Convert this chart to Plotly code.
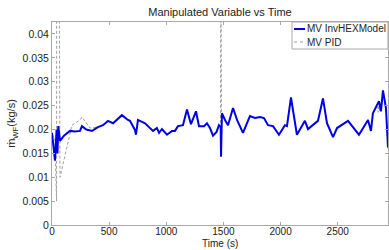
import plotly.graph_objects as go

# Blue series: MV InvHEXModel
t_inv = [0, 26, 40, 48, 55, 70, 105, 157, 200, 245, 262, 300, 350, 402, 446, 490, 534, 575, 612, 665, 682,
         726, 735, 752, 814, 884, 918, 937, 962, 1006, 1050, 1076, 1102, 1146, 1181, 1216, 1260, 1286,
         1330, 1356, 1382, 1409, 1440, 1461, 1476, 1479, 1482, 1487, 1514, 1540, 1584, 1619, 1671, 1732,
         1776, 1820, 1855, 1890, 1934, 1986, 2038, 2056, 2091, 2126, 2143, 2213, 2240, 2327, 2371, 2406,
         2459, 2494, 2590, 2686, 2765, 2791, 2808, 2843, 2861, 2878, 2896, 2922, 2940]
mv_inv = [0.0193, 0.0135, 0.0200, 0.0150, 0.0207, 0.0176, 0.0187, 0.0197, 0.0196, 0.0197, 0.0207, 0.0200,
          0.0197, 0.0205, 0.0209, 0.0218, 0.0213, 0.0222, 0.0230, 0.0220, 0.0218,
          0.0199, 0.0189, 0.0220, 0.0213, 0.0197, 0.0203, 0.0193, 0.0201, 0.0189, 0.0197, 0.0197, 0.0207,
          0.0209, 0.0242, 0.0211, 0.0238, 0.0207, 0.0207, 0.0213, 0.0203, 0.0187, 0.0195, 0.0209, 0.0205,
          0.0143, 0.0205, 0.0234, 0.0220, 0.0209, 0.0245, 0.0220, 0.0193, 0.0228,
          0.0224, 0.0226, 0.0224, 0.0209, 0.0207, 0.0189, 0.0209, 0.0207, 0.0267, 0.0218, 0.0189, 0.0218,
          0.0201, 0.0218, 0.0265, 0.0213, 0.0184, 0.0203, 0.0218, 0.0189, 0.0220, 0.0197, 0.0234, 0.0251,
          0.0259, 0.0238, 0.0282, 0.0245, 0.0162]

# Grey dashed series: MV PID
t_pid = [0, 25, 40, 41, 62, 70, 175, 245, 262, 332, 402, 446, 490, 534, 575, 612, 665, 682, 726, 735, 752,
         814, 884, 918, 937, 962, 1006, 1050, 1076, 1102, 1146, 1181, 1216, 1260, 1286, 1330, 1356, 1382,
         1409, 1440, 1461, 1475, 1477, 1481, 1483, 1487, 1514, 1540, 1584, 1619, 1671, 1732, 1776, 1820,
         1855, 1890, 1934, 1986, 2038, 2056, 2091, 2126, 2143, 2213, 2240, 2327, 2371, 2406, 2459, 2494,
         2590, 2686, 2765, 2791, 2808, 2830, 2843, 2855, 2861, 2870, 2878, 2896, 2922, 2940]
mv_pid = [0.0190, 0.0180, 0.0050, 0.0600, 0.0600, 0.0100, 0.0209, 0.0220, 0.0226, 0.0203, 0.0205, 0.0209,
          0.0218, 0.0213, 0.0222, 0.0230, 0.0220, 0.0218, 0.0199, 0.0189, 0.0220,
          0.0213, 0.0197, 0.0203, 0.0193, 0.0201, 0.0189, 0.0197, 0.0197, 0.0207, 0.0209, 0.0242, 0.0211,
          0.0238, 0.0207, 0.0207, 0.0213, 0.0203, 0.0187, 0.0195, 0.0209, 0.0210, 0.0600, 0.0600, 0.0215,
          0.0234, 0.0220, 0.0209, 0.0245, 0.0220, 0.0193, 0.0228, 0.0224, 0.0226, 0.0224, 0.0209, 0.0207,
          0.0189, 0.0209, 0.0207, 0.0267, 0.0218, 0.0189, 0.0218, 0.0201, 0.0218, 0.0265, 0.0213, 0.0184,
          0.0203, 0.0218, 0.0189, 0.0220, 0.0197, 0.0234, 0.0240, 0.0251, 0.0236, 0.0259, 0.0240, 0.0238,
          0.0282, 0.0245, 0.0175]

x_ticks = [0, 500, 1000, 1500, 2000, 2500]
y_ticks = [0, 0.005, 0.01, 0.015, 0.02, 0.025, 0.03, 0.035, 0.04]
y_tick_text = ["0", "0.005", "0.01", "0.015", "0.02", "0.025", "0.03", "0.035", "0.04"]

FONT = "Liberation Sans, Arial"
TXT = "#222"
GREY = "#a8a8a8"
BLUE = "#0000e6"
PIDC = "#a0a0a0"

fig = go.Figure()
fig.add_trace(go.Scatter(x=t_pid, y=mv_pid, mode="lines", name="MV PID",
                         line=dict(color=PIDC, width=1, dash="3px,2px"), showlegend=False))
fig.add_trace(go.Scatter(x=t_inv, y=mv_inv, mode="lines", name="MV InvHEXModel",
                         line=dict(color=BLUE, width=2), showlegend=False))

axis_common = dict(showgrid=False, zeroline=False, showline=True, linecolor=GREY, linewidth=1,
                   mirror="ticks", ticks="inside", ticklen=3, tickcolor=GREY)

TOP, BOT = 22, 25
W, H = 336.0, float(250 - TOP - BOT)
lx0, lx1 = (292 - 52) / W, 1.0
ly1, ly0 = 1.0, 1.0 - 27 / H
shapes = [
    dict(type="rect", xref="paper", yref="paper", x0=lx0, x1=lx1, y0=ly0, y1=ly1,
         line=dict(color=GREY, width=1), fillcolor="white", layer="above"),
    dict(type="line", xref="paper", yref="paper", x0=(294 - 52) / W, x1=(305 - 52) / W,
         y0=1 - 7 / H, y1=1 - 7 / H, line=dict(color=BLUE, width=2), layer="above"),
    dict(type="line", xref="paper", yref="paper", x0=(294 - 52) / W, x1=(305 - 52) / W,
         y0=1 - 20 / H, y1=1 - 20 / H, line=dict(color=PIDC, width=1, dash="dot"), layer="above"),
]
annotations = [
    dict(text="MV InvHEXModel", xref="paper", yref="paper", x=(305 - 52) / W, y=1 - 7 / H,
         xanchor="left", yanchor="middle", showarrow=False, font=dict(family=FONT, size=10, color=TXT)),
    dict(text="MV PID", xref="paper", yref="paper", x=(305 - 52) / W, y=1 - 20 / H,
         xanchor="left", yanchor="middle", showarrow=False, font=dict(family=FONT, size=10, color=TXT)),
    dict(text="Time (s)", xref="paper", yref="paper", x=(220 - 52) / W, y=-BOT / H,
         xanchor="center", yanchor="bottom", showarrow=False, borderpad=0,
         font=dict(family=FONT, size=10, color=TXT)),
]

fig.update_layout(
    width=389, height=250,
    margin=dict(l=52, r=1, t=TOP, b=BOT),
    paper_bgcolor="white", plot_bgcolor="white",
    title=dict(text="Manipulated Variable vs Time", x=220 / 389, xanchor="center", y=1 - 12 / 250,
               yanchor="middle", font=dict(family=FONT, size=11, color=TXT)),
    xaxis=dict(range=[0, 2940], tickvals=x_ticks, ticklabelstandoff=-3,
               tickfont=dict(family=FONT, size=10, color=TXT), **axis_common),
    yaxis=dict(range=[0, 0.0425], tickvals=y_ticks, ticktext=y_tick_text,
               tickfont=dict(family=FONT, size=10.5, color=TXT),
               title=dict(text="ṁ<sub>WF</sub>(kg/s)", standoff=4, font=dict(family=FONT, size=11, color=TXT)),
               **axis_common),
    shapes=shapes,
    annotations=annotations,
    showlegend=False,
)

fig.write_html("out.html", config={"displayModeBar": False},
               post_script="document.body.style.margin='0';document.body.style.padding='0';")
